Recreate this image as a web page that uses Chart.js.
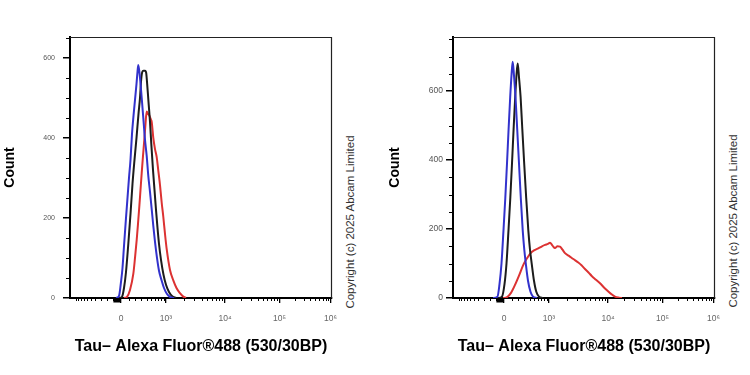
<!DOCTYPE html>
<html>
<head>
<meta charset="utf-8">
<script src="https://cdn.jsdelivr.net/npm/chart.js@4.4.1/dist/chart.umd.min.js"></script>
<style>
  html, body { margin: 0; padding: 0; background: #fff; }
  body { width: 750px; height: 375px; position: relative; overflow: hidden; font-family: "Liberation Sans", Arial, sans-serif; }
  .panel { position: absolute; top: 0; width: 340px; height: 375px; }
  .copy { position: absolute; font-size: 11.5px; color: #333; white-space: nowrap; transform: translate(-50%, -50%) rotate(-90deg); }
</style>
</head>
<body>
<div class="panel" style="left:0"><canvas id="leftChart" width="340" height="375"></canvas></div>
<div class="panel" style="left:385px"><canvas id="rightChart" width="340" height="375"></canvas></div>
<div class="copy" style="left:350px; top:222px">Copyright (c) 2025 Abcam Limited</div>
<div class="copy" style="left:733px; top:221px">Copyright (c) 2025 Abcam Limited</div>

<script>
// x axis is in display channels (logicle-like), 0..262
const xTickPos = [51, 96, 155, 209.5, 260.5];
const xTickLabels = ['0', '10³', '10⁴', '10⁵', '10⁶'];
const yTickValues = [0, 200, 400, 600];
const xTitle = 'Tau– Alexa Fluor®488 (530/30BP)';
const yTitle = 'Count';

// [channel, count] pairs
const leftBlue = [[46,0],[49,5],[51,40],[52.5,75],[54,130],[56,200],[57.5,250],[59,300],[60.5,345],[62,410],[63.5,455],[65,495],[66.5,535],[67.5,565],[68.3,582],
  [70,550],[71.7,500],[73.3,450],[75,395],[76.7,355],[78.3,305],[80,265],[81.7,222],[83.3,180],[85,140],[87,100],[89,68],[91.5,45],[94,25],[97,10],[100,3],[104,0]];
const leftBlack = [[49,0],[52,3],[54,25],[56,65],[58.3,135],[60.5,210],[62.5,285],[64.5,345],[66.5,400],[68.5,460],[70,500],[71,540],[72,562],[73.5,568],[75,568],[76.2,562],
  [77,540],[78.5,490],[80,440],[81.3,385],[83,320],[84.5,270],[86,220],[87.5,175],[89,135],[91,95],[93.5,58],[96,33],[99,15],[102,5],[106,0]];
const leftRed = [[54,0],[57,3],[60,20],[63.3,60],[65,100],[66.7,145],[68,185],[69.3,228],[70.5,270],[71.7,312],[73,355],[74.3,395],[75.5,435],[76.7,466],[78,460],[79.5,455],
  [81,445],[81.7,440],[83.3,400],[85,372],[86.7,352],[88.3,318],[90,282],[91.7,238],[93.3,203],[95,160],[96.7,122],[100,70],[103.3,44],[106.5,25],[110,12],[113,4],[116,0]];

const rightBlue = [[40,0],[44.5,4],[46.5,40],[48.5,100],[50.5,197],[52.3,290],[54,390],[55.6,490],[57.2,583],[58.6,650],[59.7,685],
  [61,645],[62.5,583],[64.2,490],[66,390],[67.8,290],[69.7,197],[71.3,140],[72.8,100],[75,50],[77.5,18],[80,4],[84,0]];
const rightBlack = [[45,0],[49,4],[51.5,40],[53.5,100],[55.5,197],[57.3,290],[59,390],[60.6,490],[62.2,583],[63.6,650],[64.7,680],
  [66,640],[67.6,583],[69.3,490],[71.2,390],[73.2,290],[75.3,197],[77,140],[78.7,100],[81,50],[83.3,18],[86,4],[90,0]];
const rightRed = [[50,0],[53.7,2],[58,15],[62,38],[66,65],[70.3,96],[74,115],[77,128],[81,138],[85.3,144],[89,150],[92,154],[95,157],[97,160],
  [99.5,152],[102,145],[104.5,150],[107,149],[109.5,140],[112,130],[116,122],[120.3,113],[125.3,103],[128.5,95],[132,84],[135.5,74],
  [138.7,64],[143,53],[147,43],[150.5,32],[153.7,23],[158,12],[162,4],[166,1],[169,0]];

const colors = { blue: '#3232cc', black: '#1c1c1c', red: '#dc3232' };

Chart.defaults.font.family = '"Liberation Sans", Arial, sans-serif';

// minor tick positions on the x axis (around zero and between decades)
function minorX() {
  const zero = xTickPos[0], A = 55, c = 311;
  const f = v => A * Math.asinh(v / c) / Math.LN10;
  const near = [], far = [];
  for (let v = 10; v < 100; v += 10) { near.push(zero - f(v)); }
  for (let v = 100; v <= 1000; v += 100) { far.push(zero - f(v)); }
  for (let v = 100; v < 1000; v += 100) { far.push(zero + f(v)); }
  for (let d = 1; d < xTickPos.length - 1; d++) {
    for (let k = 2; k <= 9; k++) {
      far.push(xTickPos[d] + (xTickPos[d + 1] - xTickPos[d]) * Math.log10(k));
    }
  }
  return { near, far };
}

const boxPlugin = {
  id: 'box',
  afterDraw(chart) {
    const { ctx, chartArea: a, scales: { x, y } } = chart;
    ctx.save();
    ctx.strokeStyle = '#222';
    // top and right edge of the frame
    ctx.lineWidth = 1.2;
    ctx.beginPath();
    ctx.moveTo(a.left, a.top + 0.5);
    ctx.lineTo(a.right - 0.5, a.top + 0.5);
    ctx.lineTo(a.right - 0.5, a.bottom);
    ctx.stroke();
    // minor y ticks every 50
    ctx.strokeStyle = '#000';
    ctx.lineWidth = 1;
    ctx.beginPath();
    for (let v = 50; v <= y.max; v += 50) {
      if (v % 200 === 0) continue;
      const py = Math.round(y.getPixelForValue(v)) + 0.5;
      ctx.moveTo(a.left - 4, py);
      ctx.lineTo(a.left, py);
    }
    const m = minorX();
    m.far.forEach(v => {
      const px = Math.round(x.getPixelForValue(v)) + 0.5;
      ctx.moveTo(px, a.bottom);
      ctx.lineTo(px, a.bottom + 3);
    });
    ctx.stroke();
    ctx.lineWidth = 1.6;
    ctx.beginPath();
    m.near.forEach(v => {
      const px = x.getPixelForValue(v);
      ctx.moveTo(px, a.bottom);
      ctx.lineTo(px, a.bottom + 4.5);
    });
    ctx.stroke();
    ctx.restore();
  }
};

function makePanel(id, series, yMax, cfg) {
  return new Chart(document.getElementById(id), {
    type: 'line',
    data: {
      datasets: series.map(s => ({
        data: s.pts.map(p => ({ x: p[0], y: p[1] })),
        borderColor: s.color,
        borderWidth: 2,
        pointRadius: 0,
        cubicInterpolationMode: 'monotone',
        fill: false
      }))
    },
    options: {
      responsive: false,
      animation: false,
      layout: { autoPadding: false, padding: { left: 0, right: cfg.padRight, top: 37, bottom: 0 } },
      plugins: { legend: { display: false }, tooltip: { enabled: false } },
      scales: {
        x: {
          type: 'linear', min: 0, max: 262, z: 1,
          afterBuildTicks: s => { s.ticks = xTickPos.map(v => ({ value: v })); },
          afterFit: s => { s.height = 77; s.paddingLeft = 0; s.paddingRight = 0; },
          ticks: { callback: (v, i) => xTickLabels[i], font: { size: 8.5 }, color: '#666', padding: 11, maxRotation: 0, autoSkip: false },
          grid: { drawOnChartArea: false, tickLength: 5, color: '#000', lineWidth: 1.3 },
          border: { color: '#000', width: 2 },
          title: { display: true, text: xTitle, color: '#000', font: { size: 16, weight: 'bold' }, padding: { top: 0, bottom: 19 } }
        },
        y: {
          type: 'linear', min: 0, max: yMax,
          afterBuildTicks: s => { s.ticks = yTickValues.map(v => ({ value: v })); },
          afterFit: s => { s.width = cfg.yWidth; s.paddingTop = 0; s.paddingBottom = 0; },
          ticks: { callback: v => String(v), font: { size: cfg.yFont }, color: '#555', padding: cfg.yPad },
          grid: { drawOnChartArea: false, tickLength: 7, color: '#000', lineWidth: 1.5 },
          border: { color: '#000', width: 2 },
          title: { display: true, text: yTitle, color: '#000', font: { size: 14, weight: 'bold' }, padding: { top: 2, bottom: 0 } }
        }
      }
    },
    plugins: [boxPlugin]
  });
}

makePanel('leftChart', [
  { pts: leftBlue, color: colors.blue },
  { pts: leftBlack, color: colors.black },
  { pts: leftRed, color: colors.red }
], 652, { padRight: 8, yWidth: 70, yFont: 7, yPad: 8 });

makePanel('rightChart', [
  { pts: rightBlue, color: colors.blue },
  { pts: rightBlack, color: colors.black },
  { pts: rightRed, color: colors.red }
], 757, { padRight: 10, yWidth: 68, yFont: 8.5, yPad: 3 });
</script>
</body>
</html>
